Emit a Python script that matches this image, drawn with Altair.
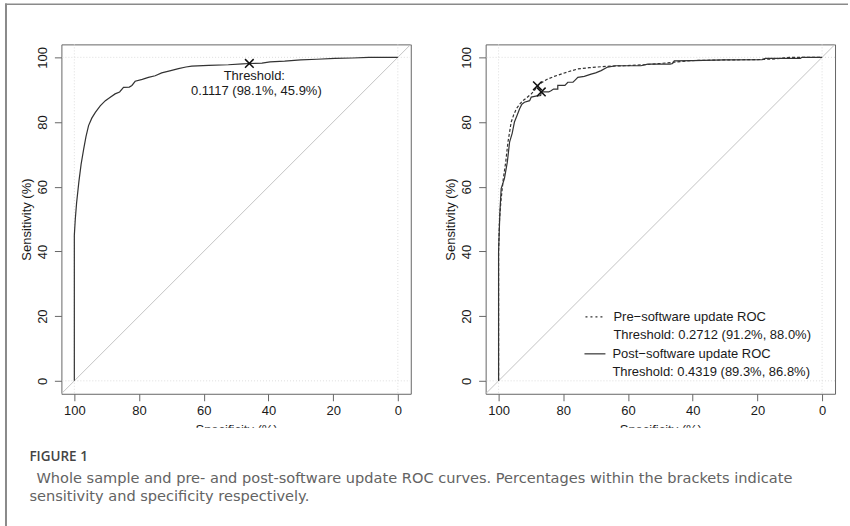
import altair as alt
import pandas as pd

# ---------------- data ----------------
whole_spec = [100, 100, 99.7, 99.3, 98.6, 97.9, 97.1, 96.4, 95.6, 94.6, 93.5, 92.0, 90.4, 89.0, 87.4,
              86.0, 84.8, 83.0, 82.2, 81.2, 79.0, 77.1, 75.0, 73.0, 70.5, 67.8, 65.5, 63.7, 58.5, 52.4,
              48.0, 45.9, 42.0, 39.5, 35.0, 30.0, 25.0, 19.5, 14.0, 9.0, 0]
whole_sens = [0, 45, 50, 55, 61.5, 67, 71.7, 75.5, 78.9, 81.2, 83.0, 85.0, 86.6, 87.6, 88.7,
              89.3, 90.7, 90.8, 91.3, 92.6, 93.2, 93.8, 94.3, 95.2, 95.8, 96.5, 97.0, 97.3, 97.5, 97.7,
              98.0, 98.1, 98.2, 98.6, 98.8, 99.2, 99.4, 99.7, 99.8, 100, 100]

pre_spec = [100, 100, 99.7, 99.3, 98.6, 97.8, 97.1, 96.5, 96.1, 95.3, 94.5, 93.5, 92.5, 91.2, 89.9,
            88.8, 88.0, 86.5, 84.8, 82.8, 80.7, 78.0, 75.5, 72.0, 68.3, 65.0, 61.2, 55.0, 50.0, 45.7,
            40.6, 30.0, 20.0, 14.4, 10.0, 0]
pre_sens = [0, 40, 50, 55.3, 62, 67.6, 73.8, 77.5, 80, 82.3, 84.1, 85.5, 86.6, 87.6, 88.7,
            89.9, 91.2, 92.3, 93.3, 94.1, 94.8, 95.7, 96.4, 96.8, 97.1, 97.3, 97.4, 97.7, 98.1, 98.5,
            99.0, 99.2, 99.3, 99.5, 100, 100]

post_spec = [100, 100, 99.6, 99.2, 98.2, 97.3, 96.6, 95.8, 95.1, 94.3, 93.5, 92.8, 92.0, 90.4, 89.9,
             88.5, 87.0, 86.8, 84.5, 83.8, 83.0, 81.7, 81.7, 79.5, 78.6, 77.0, 76.5, 75.5, 73.5, 71.4,
             70.0, 68.3, 66.3, 63.7, 56.0, 53.9, 47.0, 46.2, 45.7, 40.0, 30.0, 18.5, 17.5, 6.7, 6.2, 0]
post_sens = [0, 40, 52, 59.4, 62.5, 67.6, 73.8, 76.5, 80.0, 82.0, 84.1, 85.5, 86.1, 86.6, 87.7,
             88.0, 88.2, 89.3, 89.3, 89.7, 90.2, 90.2, 91.3, 91.3, 92.3, 92.3, 92.8, 93.8, 94.1, 94.8,
             95.2, 95.9, 97.0, 97.4, 97.4, 97.9, 97.9, 98.1, 98.9, 99.0, 99.2, 99.3, 99.7, 99.7, 100, 100]

# thresholds (specificity, sensitivity)
whole_thr = (45.9, 98.1)
pre_thr = (88.0, 91.2)
post_thr = (86.8, 89.3)

whole_thr_labels = ["Threshold:", "0.1117 (98.1%, 45.9%)"]
legend_names = ["Pre−software update ROC", "Post−software update ROC"]
legend_thresholds = ["Threshold: 0.2712 (91.2%, 88.0%)", "Threshold: 0.4319 (89.3%, 86.8%)"]

diag_spec = [104, -4]
diag_sens = [-4, 104]
frame_vals = [0, 100]
x_ticks = [100, 80, 60, 40, 20, 0]
y_ticks = [0, 20, 40, 60, 80, 100]

caption_head = "FIGURE 1"
caption_lines = [
    "Whole sample and pre- and post-software update ROC curves. Percentages within the brackets indicate",
    "sensitivity and specificity respectively.",
]

# ---------------- styles ----------------
FONT = "Liberation Sans"
TXT = "#1a1a1a"
AX = "#666666"
CURVE = "#333333"

xscale = alt.Scale(domain=[-4, 104], reverse=True, nice=False, zero=False)
yscale = alt.Scale(domain=[-4, 104], nice=False, zero=False)

xaxis = alt.Axis(values=x_ticks, title="Specificity (%)", grid=False, domain=False,
                 tickColor=AX, tickSize=7, labelFontSize=13, labelColor=TXT, labelFont=FONT,
                 labelPadding=4, labelFlush=False, labelOverlap=False,
                 titleFont=FONT, titleFontSize=13, titleFontWeight="normal", titleColor=TXT,
                 titlePadding=6, zindex=0)
yaxis = alt.Axis(values=y_ticks, title="Sensitivity (%)", grid=False, domain=False,
                 tickColor=AX, tickSize=7, labelFontSize=13, labelColor=TXT, labelFont=FONT,
                 labelAngle=270, labelAlign="center", labelBaseline="bottom", labelPadding=5,
                 labelFlush=False, labelOverlap=False,
                 titleFont=FONT, titleFontSize=13, titleFontWeight="normal", titleColor=TXT,
                 titlePadding=3, zindex=0)


def curve_df(spec, sens):
    return pd.DataFrame({"spec": spec, "sens": sens, "i": list(range(len(spec)))})


def base_layers():
    grid_x = alt.Chart(pd.DataFrame({"v": frame_vals})).mark_rule(
        color="#dddddd", strokeDash=[1, 2], strokeWidth=1
    ).encode(x=alt.X("v:Q", scale=xscale, axis=xaxis))
    grid_y = alt.Chart(pd.DataFrame({"v": frame_vals})).mark_rule(
        color="#dddddd", strokeDash=[1, 2], strokeWidth=1
    ).encode(y=alt.Y("v:Q", scale=yscale, axis=yaxis))
    diag = alt.Chart(curve_df(diag_spec, diag_sens)).mark_line(
        color="#c4c4c4", strokeWidth=1
    ).encode(x=alt.X("spec:Q", scale=xscale, axis=xaxis),
             y=alt.Y("sens:Q", scale=yscale, axis=yaxis), order="i:Q")
    return [grid_x, grid_y, diag]


def line(spec, sens, dash=None):
    kw = dict(color=CURVE, strokeWidth=1.2)
    if dash:
        kw["strokeDash"] = dash
    return alt.Chart(curve_df(spec, sens)).mark_line(**kw).encode(
        x=alt.X("spec:Q", scale=xscale, axis=xaxis),
        y=alt.Y("sens:Q", scale=yscale, axis=yaxis), order="i:Q")


CROSS = "M-1,-1L1,1M1,-1L-1,1"


def cross(points):
    df = pd.DataFrame({"spec": [p[0] for p in points], "sens": [p[1] for p in points]})
    return alt.Chart(df).mark_point(shape=CROSS, size=75, filled=False, color="#111111",
                                    strokeWidth=1.5, opacity=1).encode(
        x=alt.X("spec:Q", scale=xscale, axis=xaxis),
        y=alt.Y("sens:Q", scale=yscale, axis=yaxis))


def ptext(txt, x, y, size=13, color=TXT, font=FONT, weight="normal", align="left"):
    return alt.Chart(pd.DataFrame({"t": [txt]})).mark_text(
        align=align, baseline="middle", fontSize=size, font=font, color=color, fontWeight=weight
    ).encode(x=alt.value(x), y=alt.value(y), text="t:N")


# ---------------- left panel ----------------
thr_df = pd.DataFrame({"spec": [whole_thr[0]], "sens": [whole_thr[1]],
                       "l1": [whole_thr_labels[0]], "l2": [whole_thr_labels[1]]})
thr_t1 = alt.Chart(thr_df).mark_text(align="center", baseline="middle", fontSize=13, font=FONT,
                                     color=TXT, dx=5, dy=13).encode(
    x=alt.X("spec:Q", scale=xscale, axis=xaxis), y=alt.Y("sens:Q", scale=yscale, axis=yaxis), text="l1:N")
thr_t2 = alt.Chart(thr_df).mark_text(align="center", baseline="middle", fontSize=13, font=FONT,
                                     color=TXT, dx=7, dy=28).encode(
    x=alt.X("spec:Q", scale=xscale, axis=xaxis), y=alt.Y("sens:Q", scale=yscale, axis=yaxis), text="l2:N")

# figure border (left and top edges) and caption, positioned in pixels relative to left plot origin
border_top = alt.Chart(pd.DataFrame({"a": [0]})).mark_rule(color="#8a8a8a", strokeWidth=1.5).encode(
    x=alt.value(-56.5), x2=alt.value(788), y=alt.value(-40.3))
border_left = alt.Chart(pd.DataFrame({"a": [0]})).mark_rule(color="#8a8a8a", strokeWidth=2).encode(
    x=alt.value(-55.5), y=alt.value(-41), y2=alt.value(483))

cap = [
    ptext(caption_head, -32, 413, size=13.5, color="#444444", font="Open Sans", weight=600),
    ptext(caption_lines[0], -25, 435, size=14.6, color="#636363", font="DejaVu Sans"),
    ptext(caption_lines[1], -32, 453.5, size=14.6, color="#636363", font="DejaVu Sans"),
]

left = alt.layer(
    *base_layers(),
    line(whole_spec, whole_sens),
    cross([whole_thr]),
    thr_t1, thr_t2,
    border_top, border_left,
    *cap,
).properties(width=350, height=350)

# ---------------- right panel ----------------
leg = [
    alt.Chart(pd.DataFrame({"a": [0]})).mark_rule(color=CURVE, strokeWidth=1.2, strokeDash=[2, 3]).encode(
        x=alt.value(100), x2=alt.value(119), y=alt.value(273)),
    ptext(legend_names[0], 128, 273),
    ptext(legend_thresholds[0], 128, 291),
    alt.Chart(pd.DataFrame({"a": [0]})).mark_rule(color=CURVE, strokeWidth=1.2).encode(
        x=alt.value(99), x2=alt.value(120), y=alt.value(310)),
    ptext(legend_names[1], 127, 310),
    ptext(legend_thresholds[1], 127, 328),
]

mask = alt.Chart(pd.DataFrame({"a": [0]})).mark_rect(color="white").encode(
    x=alt.value(-385), x2=alt.value(315), y=alt.value(384), y2=alt.value(398))

right = alt.layer(
    *base_layers(),
    line(pre_spec, pre_sens, dash=[3, 2]),
    line(post_spec, post_sens),
    cross([pre_thr, post_thr]),
    *leg,
    mask,
).properties(width=350, height=350)

chart = alt.hconcat(left, right, spacing=75, bounds="flush").properties(
    padding={"left": 3.5, "top": 1, "right": 0, "bottom": 0},
    background="white",
).configure_view(stroke=AX, strokeWidth=1)

chart.save("out.html", embed_options={"renderer": "svg", "actions": False})
